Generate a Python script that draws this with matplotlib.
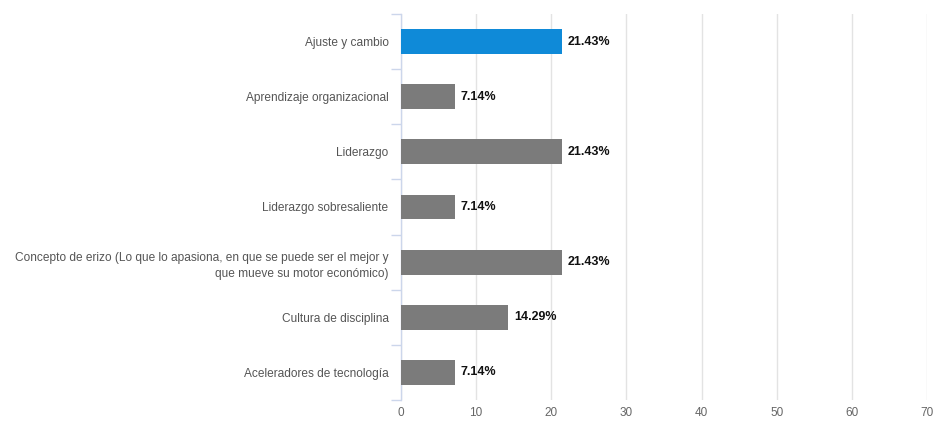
import matplotlib.pyplot as plt

categories = [
    "Ajuste y cambio",
    "Aprendizaje organizacional",
    "Liderazgo",
    "Liderazgo sobresaliente",
    "Concepto de erizo (Lo que lo apasiona, en que se puede ser el mejor y\nque mueve su motor económico)",
    "Cultura de disciplina",
    "Aceleradores de tecnología",
]
values = [21.43, 7.14, 21.43, 7.14, 21.43, 14.29, 7.14]
highlight = "Ajuste y cambio"
x_ticks = [0, 10, 20, 30, 40, 50, 60, 70]

plt.rcParams['font.family'] = ['Liberation Sans', 'DejaVu Sans']

fig = plt.figure(figsize=(9.37, 4.21), dpi=100)
ax = fig.add_axes([0.428, 0.05, 0.5613, 0.9167])

pos = list(range(len(categories)))
colors = ['#0f8ad8' if c == highlight else '#7b7b7b' for c in categories]
ax.barh(pos, values, height=0.45, color=colors, edgecolor='none', zorder=3)

for p, v in zip(pos, values):
    ax.text(v + 0.8, p, f"{v:.2f}%", va='center', ha='left',
            fontsize=9, fontweight='bold', color='#111111')

ax.set_xlim(0, 70)
ax.set_ylim(len(categories) - 0.5, -0.5)
ax.set_xticks(x_ticks)
ax.set_xticklabels([str(t) for t in x_ticks])
ax.tick_params(axis='x', length=0, pad=5, labelsize=8.5, labelcolor='#666666')

ax.set_yticks(pos)
ax.set_yticklabels(categories, fontsize=8.6, color='#555555')
ax.tick_params(axis='y', which='major', length=0, pad=9)
ax.set_yticks([p + 0.5 for p in range(-1, len(categories))], minor=True)
ax.tick_params(axis='y', which='minor', length=7, width=1, color='#ccd6eb')
for lbl in ax.get_yticklabels():
    lbl.set_horizontalalignment('right')
    lbl.set_multialignment('right')
    lbl.set_linespacing(1.45)

ax.grid(axis='x', color='#e3e3e3', linewidth=1, zorder=0)
for side in ['top', 'right', 'bottom']:
    ax.spines[side].set_visible(False)
ax.spines['left'].set_color('#ccd6eb')
ax.spines['left'].set_linewidth(1)

fig.savefig('out.png', dpi=100)
